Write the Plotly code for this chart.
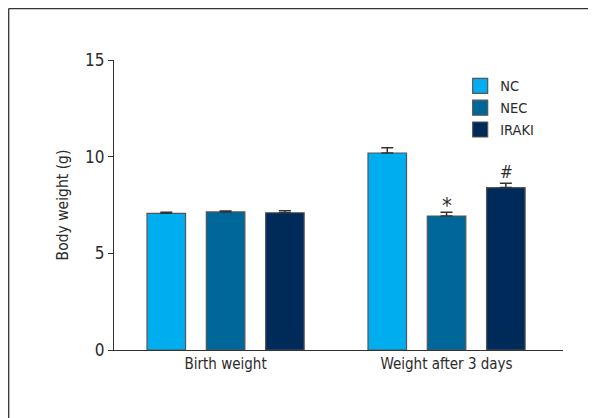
import plotly.graph_objects as go

categories = ["Birth weight", "Weight after 3 days"]
groups = ["NC", "NEC", "IRAKI"]
means = {
    "NC": [7.07, 10.19],
    "NEC": [7.14, 6.93],
    "IRAKI": [7.10, 8.40],
}
errors = {
    "NC": [0.05, 0.27],
    "NEC": [0.05, 0.19],
    "IRAKI": [0.10, 0.22],
}
colors = {"NC": "#00AEEF", "NEC": "#00679B", "IRAKI": "#002A5A"}
y_ticks = [0, 5, 10, 15]
sig_marks = [("NEC", 1, "*"), ("IRAKI", 1, "#")]

FONT = "DejaVu Sans Condensed, Liberation Sans Narrow, sans-serif"
TXT = "#2b2b2b"

fig = go.Figure()
for g in groups:
    fig.add_trace(go.Bar(
        x=categories, y=means[g], name=g,
        marker=dict(color=colors[g], line=dict(color="#555555", width=1.2)),
        error_y=dict(type="data", array=errors[g], arrayminus=[0] * len(categories),
                     symmetric=False, color="#333333", thickness=1.5, width=6),
        showlegend=False,
    ))
    fig.add_trace(go.Scatter(
        x=[None], y=[None], mode="markers", name=g,
        marker=dict(symbol="square", size=15, color=colors[g],
                    line=dict(color="#555555", width=1.2)),
        showlegend=True,
    ))

offsets = {"NC": -1, "NEC": 0, "IRAKI": 1}
for g, ci, txt in sig_marks:
    fig.add_annotation(
        x=categories[ci], y=means[g][ci] + errors[g][ci], xref="x", yref="y",
        text=txt, showarrow=False, xshift=offsets[g] * 59.5,
        yshift=7 if txt == "*" else 11,
        font=dict(family=FONT, size=22 if txt == "*" else 17, color=TXT),
    )

# page is offset by the 8px body margin, so figure is 8px smaller
W, H = 588, 410
L, R, T, B = 106, 33, 52, 68
pw, ph = W - L - R, H - T - B
fx = -L / pw + 0.7 / pw
fy1 = (H - B) / ph - 0.5 / ph
fig.add_shape(type="line", xref="paper", yref="paper", x0=fx, x1=(W + 5 - L) / pw,
              y0=fy1, y1=fy1, line=dict(color="#333333", width=1.3))
fig.add_shape(type="line", xref="paper", yref="paper", x0=fx, x1=fx,
              y0=fy1, y1=-(B + 5) / ph, line=dict(color="#333333", width=1.3))

fig.update_layout(
    width=W, height=H,
    margin=dict(l=L, r=R, t=T, b=B),
    paper_bgcolor="white", plot_bgcolor="white",
    barmode="group", bargap=0.195, bargroupgap=0.35,
    font=dict(family=FONT, size=15, color=TXT),
    xaxis=dict(range=[-0.505, 1.527], showline=True, linecolor="#333333", linewidth=1.3,
               ticks="", showgrid=False, tickfont=dict(size=15, color=TXT)),
    yaxis=dict(range=[0, 15], tickvals=y_ticks, showline=True, linecolor="#333333",
               linewidth=1.3, ticks="outside", ticklen=5, tickcolor="#333333",
               showgrid=False, zeroline=False, tickfont=dict(size=17, color=TXT),
               title=dict(text="Body weight (g)", font=dict(size=15.5, color=TXT), standoff=12)),
    legend=dict(x=0.771, y=0.966, xanchor="left", yanchor="top",
                font=dict(size=14.5, color=TXT), itemwidth=30, tracegroupgap=0,
                bgcolor="rgba(0,0,0,0)"),
)

fig.write_html("out.html")
